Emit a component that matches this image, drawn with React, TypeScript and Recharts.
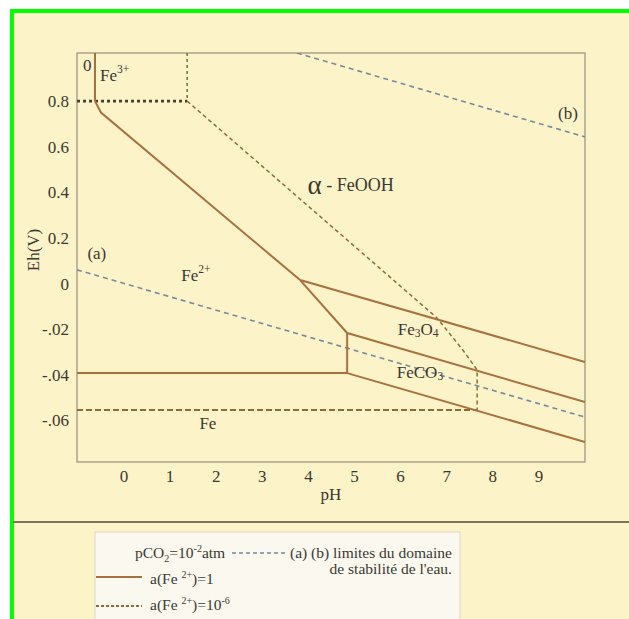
import React from "react";
import {
  ComposedChart,
  Line,
  XAxis,
  YAxis,
  ReferenceArea,
  ReferenceDot,
} from "recharts";

const PH_TICKS = [0, 1, 2, 3, 4, 5, 6, 7, 8, 9];
const EH_TICKS = [0.8, 0.6, 0.4, 0.2, 0, -0.2, -0.4, -0.6];
const EH_TICK_LABELS = ["0.8", "0.6", "0.4", "0.2", "0", "-.02", "-.04", "-.06"];

const X_MIN = -1.02;
const X_MAX = 10;
const Y_MIN = -0.783;
const Y_MAX = 1.011;

// a(Fe2+)=1 boundaries (solid)
const fe3Fe2 = [
  { ph: -0.63, eh: 1.011 },
  { ph: -0.63, eh: 0.8 },
  { ph: -0.5, eh: 0.75 },
  { ph: 3.82, eh: 0.015 },
];
const fe2Magnetite = [
  { ph: 3.82, eh: 0.015 },
  { ph: 4.84, eh: -0.217 },
];
const goethiteMagnetite = [
  { ph: 3.82, eh: 0.015 },
  { ph: 10, eh: -0.344 },
];
const magnetiteSiderite = [
  { ph: 4.84, eh: -0.217 },
  { ph: 10, eh: -0.52 },
];
const fe2Siderite = [
  { ph: 4.84, eh: -0.217 },
  { ph: 4.84, eh: -0.393 },
];
const fe2Fe = [
  { ph: -1.02, eh: -0.393 },
  { ph: 4.84, eh: -0.393 },
];
const sideriteFe = [
  { ph: 4.84, eh: -0.393 },
  { ph: 10, eh: -0.695 },
];

// a(Fe2+)=10^-6 boundaries (dashed)
const fe3Limit = [
  { ph: -1.02, eh: 0.8 },
  { ph: 1.37, eh: 0.8 },
];
const fe3Vertical = [
  { ph: 1.37, eh: 1.011 },
  { ph: 1.37, eh: 0.8 },
];
const goethiteLimit = [
  { ph: 1.37, eh: 0.8 },
  { ph: 6.79, eh: -0.151 },
  { ph: 7.35, eh: -0.292 },
  { ph: 7.66, eh: -0.379 },
  { ph: 7.66, eh: -0.555 },
];
const feLimit = [
  { ph: -1.02, eh: -0.555 },
  { ph: 7.66, eh: -0.555 },
];

// water stability limits
const waterA = [
  { ph: -1.02, eh: 0.06 },
  { ph: 10, eh: -0.586 },
];
const waterB = [
  { ph: 3.75, eh: 1.011 },
  { ph: 10, eh: 0.643 },
];

const BG = "#fdf3c9";
const BROWN = "#a8703e";
const DASH_BROWN = "#8f6b3c";
const BLUE = "#7b87a0";
const FRAME = "#aaa38c";
const INK = "#3a3832";
const FONT = "'Liberation Serif', 'DejaVu Serif', serif";

type Part = [string, "n" | "sup" | "sub"];

const tag =
  (parts: Part[], anchor: "start" | "middle" | "end" = "middle", size = 17) =>
  (props: any) => {
    const vb = props.viewBox || {};
    let shift = 0;
    return (
      <text
        x={vb.x}
        y={vb.y}
        textAnchor={anchor}
        dominantBaseline="central"
        fontFamily={FONT}
        fontSize={size}
        fill={INK}
      >
        {parts.map(([t, kind], i) => {
          const target = kind === "sup" ? -6 : kind === "sub" ? 4 : 0;
          const dy = target - shift;
          shift = target;
          return (
            <tspan key={i} dy={dy} fontSize={kind === "n" ? size : size * 0.68}>
              {t}
            </tspan>
          );
        })}
      </text>
    );
  };

const LABELS: { ph: number; eh: number; parts: Part[]; anchor?: "start" | "middle"; size?: number }[] = [
  { ph: -0.8, eh: 0.96, parts: [["0", "n"]] },
  { ph: -0.52, eh: 0.914, parts: [["Fe", "n"], ["3+", "sup"]], anchor: "start" },
  { ph: -0.59, eh: 0.134, parts: [["(a)", "n"]] },
  { ph: 9.63, eh: 0.748, parts: [["(b)", "n"]] },
  { ph: 1.56, eh: 0.037, parts: [["Fe", "n"], ["2+", "sup"]] },
  { ph: 6.38, eh: -0.2, parts: [["Fe", "n"], ["3", "sub"], ["O", "n"], ["4", "sub"]] },
  { ph: 6.42, eh: -0.388, parts: [["FeCO", "n"], ["3", "sub"]] },
  { ph: 1.82, eh: -0.61, parts: [["Fe", "n"]] },
];

const lineProps = {
  dataKey: "eh",
  type: "linear" as const,
  dot: false,
  activeDot: false,
  isAnimationActive: false,
};

function Chart() {
  return (
    <ComposedChart
      width={629}
      height={520}
      margin={{ top: 53, right: 44, left: 7, bottom: 18 }}
      style={{ position: "absolute", left: 0, top: 0 }}
    >
      <XAxis
        dataKey="ph"
        type="number"
        domain={[X_MIN, X_MAX]}
        ticks={PH_TICKS}
        allowDataOverflow
        axisLine={false}
        tickLine={false}
        height={40}
        tick={{ fill: INK, fontSize: 17, fontFamily: FONT }}
        label={{
          content: (p: any) => (
            <text
              x={p.viewBox.x + p.viewBox.width / 2}
              y={p.viewBox.y + 38}
              textAnchor="middle"
              fontFamily={FONT}
              fontSize={17}
              fill={INK}
            >
              pH
            </text>
          ),
        }}
      />
      <YAxis
        type="number"
        domain={[Y_MIN, Y_MAX]}
        ticks={EH_TICKS}
        allowDataOverflow
        width={70}
        axisLine={false}
        tickLine={false}
        tickFormatter={(v: number) => EH_TICK_LABELS[EH_TICKS.indexOf(v)] ?? String(v)}
        tick={{ fill: INK, fontSize: 17, fontFamily: FONT }}
        label={{
          content: (p: any) => {
            const cx = p.viewBox.x + 26;
            const cy = 250;
            return (
              <text
                x={cx}
                y={cy}
                transform={`rotate(-90 ${cx} ${cy})`}
                textAnchor="middle"
                dominantBaseline="central"
                fontFamily={FONT}
                fontSize={17}
                fill={INK}
              >
                Eh(V)
              </text>
            );
          },
        }}
      />
      <ReferenceArea
        x1={X_MIN}
        x2={X_MAX}
        y1={Y_MIN}
        y2={Y_MAX}
        fill="none"
        stroke={FRAME}
        strokeWidth={1.5}
        fillOpacity={0}
      />

      <Line {...lineProps} data={waterA} stroke={BLUE} strokeWidth={1.6} strokeDasharray="5 4" />
      <Line {...lineProps} data={waterB} stroke={BLUE} strokeWidth={1.6} strokeDasharray="5 4" />

      <Line {...lineProps} data={fe3Limit} stroke="#4a3e2e" strokeWidth={2.6} strokeDasharray="3 3" />
      <Line {...lineProps} data={fe3Vertical} stroke={DASH_BROWN} strokeWidth={1.6} strokeDasharray="3 3" />
      <Line {...lineProps} data={goethiteLimit} stroke={DASH_BROWN} strokeWidth={1.5} strokeDasharray="4 3" />
      <Line {...lineProps} data={feLimit} stroke={DASH_BROWN} strokeWidth={1.8} strokeDasharray="6 3" />

      <Line {...lineProps} data={fe3Fe2} stroke={BROWN} strokeWidth={2} />
      <Line {...lineProps} data={fe2Magnetite} stroke={BROWN} strokeWidth={2} />
      <Line {...lineProps} data={goethiteMagnetite} stroke={BROWN} strokeWidth={2} />
      <Line {...lineProps} data={magnetiteSiderite} stroke={BROWN} strokeWidth={2} />
      <Line {...lineProps} data={fe2Siderite} stroke={BROWN} strokeWidth={2} />
      <Line {...lineProps} data={fe2Fe} stroke={BROWN} strokeWidth={2} />
      <Line {...lineProps} data={sideriteFe} stroke={BROWN} strokeWidth={2} />

      {LABELS.map((l, i) => (
        <ReferenceDot
          key={i}
          x={l.ph}
          y={l.eh}
          r={0}
          fill="none"
          stroke="none"
          ifOverflow="visible"
          label={tag(l.parts, l.anchor ?? "middle", l.size ?? 17)}
        />
      ))}
      <ReferenceDot
        x={3.98}
        y={0.432}
        r={0}
        fill="none"
        stroke="none"
        ifOverflow="visible"
        label={(props: any) => (
          <text
            x={props.viewBox.x}
            y={props.viewBox.y}
            dominantBaseline="central"
            fontFamily={FONT}
            fill={INK}
          >
            <tspan fontSize={27}>α</tspan>
            <tspan fontSize={18}> - FeOOH</tspan>
          </text>
        )}
      />
    </ComposedChart>
  );
}

function LegendBox() {
  const t = { fontFamily: FONT, fontSize: 15.5, fill: INK };
  return (
    <svg
      width={629}
      height={619}
      style={{ position: "absolute", left: 0, top: 0, pointerEvents: "none" }}
    >
      <line x1={13} x2={629} y1={522} y2={522} stroke="#7f7659" strokeWidth={2} />
      <rect x={95} y={532} width={365} height={100} fill="#fbf8ef" stroke="#dcd7c6" />
      <text x={135} y={558} {...t}>
        pCO<tspan dy={4} fontSize={10}>2</tspan>
        <tspan dy={-4}>=10</tspan>
        <tspan dy={-6} fontSize={10}>-2</tspan>
        <tspan dy={6}>atm</tspan>
      </text>
      <line x1={232} x2={286} y1={553} y2={553} stroke={BLUE} strokeWidth={1.5} strokeDasharray="4 3" />
      <text x={290} y={558} {...t}>(a) (b) limites du domaine</text>
      <text x={452} y={574} textAnchor="end" {...t}>de stabilité de l'eau.</text>
      <line x1={96} x2={142} y1={577} y2={577} stroke={BROWN} strokeWidth={2} />
      <text x={150} y={584} {...t}>
        a(Fe <tspan dy={-6} fontSize={10}>2+</tspan>
        <tspan dy={6}>)=1</tspan>
      </text>
      <line x1={96} x2={142} y1={606} y2={606} stroke={DASH_BROWN} strokeWidth={1.8} strokeDasharray="3 2" />
      <text x={150} y={610} {...t}>
        a(Fe <tspan dy={-6} fontSize={10}>2+</tspan>
        <tspan dy={6}>)=10</tspan>
        <tspan dy={-6} fontSize={10}>-6</tspan>
      </text>
    </svg>
  );
}

export default function App() {
  return (
    <div
      style={{
        position: "absolute",
        left: 0,
        top: 0,
        width: 629,
        height: 619,
        background: "#ffffff",
        overflow: "hidden",
      }}
    >
      <div
        style={{
          position: "absolute",
          left: 10,
          top: 9,
          width: 619,
          height: 610,
          background: BG,
          borderLeft: "4px solid #00ff00",
          borderTop: "4px solid #00ff00",
          boxSizing: "border-box",
        }}
      />
      <Chart />
      <LegendBox />
    </div>
  );
}
